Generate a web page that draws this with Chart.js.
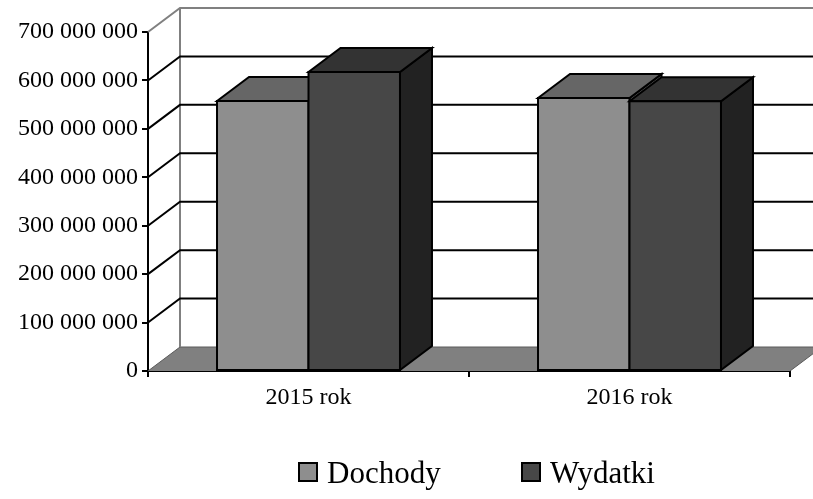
<!DOCTYPE html>
<html>
<head>
<meta charset="utf-8">
<script src="https://cdn.jsdelivr.net/npm/chart.js@4"></script>
<style>
  html, body { margin: 0; padding: 0; background: #fff; }
  canvas { display: block; }
</style>
</head>
<body>
<canvas id="chart" width="813" height="499"></canvas>
<script>
// dane
const categories = ["2015 rok", "2016 rok"];
const seriesNames = ["Dochody", "Wydatki"];
const dochody = [557500000, 563700000];
const wydatki = [617400000, 557000000];
const yMax = 700000000;
const yStep = 100000000;

// przesuniecie glebi (efekt 3D)
const DX = 32;
const DY = -24;

const faces = [
  { front: "#8e8e8e", top: "#666666", side: "#5a5a5a" },
  { front: "#474747", top: "#333333", side: "#222222" },
];

const fmt = (v) => String(v).replace(/\B(?=(\d{3})+(?!\d))/g, " ");

const poly = (ctx, pts, fill) => {
  ctx.beginPath();
  ctx.moveTo(pts[0][0], pts[0][1]);
  for (let i = 1; i < pts.length; i++) ctx.lineTo(pts[i][0], pts[i][1]);
  ctx.closePath();
  ctx.fillStyle = fill;
  ctx.fill();
  ctx.stroke();
};

// sciana, podloga i slupki 3D
const threeD = {
  id: "threeD",
  beforeDatasetsDraw(chart) {
    const { ctx, chartArea: a, scales } = chart;
    const y = scales.y;
    ctx.save();
    // podloga
    ctx.fillStyle = "#808080";
    ctx.strokeStyle = "#5a5a5a";
    ctx.lineWidth = 1;
    ctx.beginPath();
    ctx.moveTo(a.left, a.bottom);
    ctx.lineTo(a.right, a.bottom);
    ctx.lineTo(a.right + DX, a.bottom + DY);
    ctx.lineTo(a.left + DX, a.bottom + DY);
    ctx.closePath();
    ctx.fill();
    ctx.beginPath();
    ctx.moveTo(a.left, a.bottom);
    ctx.lineTo(a.left + DX, a.bottom + DY);
    ctx.lineTo(a.right + DX, a.bottom + DY);
    ctx.lineTo(a.right, a.bottom);
    ctx.stroke();

    // krawedzie sciany
    ctx.strokeStyle = "#808080";
    ctx.lineWidth = 2;
    ctx.beginPath();
    ctx.moveTo(a.left, a.top);
    ctx.lineTo(a.left + DX, a.top + DY);
    ctx.lineTo(a.right + DX, a.top + DY);
    ctx.moveTo(a.left + DX, a.top + DY);
    ctx.lineTo(a.left + DX, a.bottom + DY);
    ctx.stroke();

    // linie siatki na scianie
    ctx.strokeStyle = "#000";
    ctx.lineWidth = 2;
    y.ticks.forEach((t) => {
      if (t.value <= 0 || t.value >= yMax) return;
      const py = y.getPixelForValue(t.value);
      ctx.beginPath();
      ctx.moveTo(a.left, py);
      ctx.lineTo(a.left + DX, py + DY);
      ctx.lineTo(a.right + DX, py + DY);
      ctx.stroke();
    });
    ctx.restore();
  },
  afterDatasetsDraw(chart) {
    const { ctx } = chart;
    const metas = chart.data.datasets.map((d, i) => chart.getDatasetMeta(i));
    ctx.save();
    ctx.strokeStyle = "#000";
    ctx.lineWidth = 2;
    ctx.lineJoin = "miter";
    for (let j = 0; j < categories.length; j++) {
      metas.forEach((meta, i) => {
        const p = meta.data[j].getProps(["x", "y", "base", "width"], true);
        const l = p.x - p.width / 2;
        const r = p.x + p.width / 2;
        const t = p.y;
        const b = p.base;
        poly(ctx, [[r, t], [r + DX, t + DY], [r + DX, b + DY], [r, b]], faces[i].side);
        poly(ctx, [[l, t], [l + DX, t + DY], [r + DX, t + DY], [r, t]], faces[i].top);
        poly(ctx, [[l, t], [r, t], [r, b], [l, b]], faces[i].front);
      });
    }
    ctx.restore();
  },
  afterDraw(chart) {
    // legenda
    const { ctx } = chart;
    const startX = [299, 522];
    ctx.save();
    ctx.font = '31px "Liberation Serif"';
    ctx.textBaseline = "alphabetic";
    seriesNames.forEach((name, i) => {
      const x = startX[i];
      ctx.fillStyle = faces[i].front;
      ctx.strokeStyle = "#000";
      ctx.lineWidth = 2;
      ctx.fillRect(x, 463, 18, 18);
      ctx.strokeRect(x, 463, 18, 18);
      ctx.fillStyle = "#000";
      ctx.fillText(name, x + 28, 483);
    });
    ctx.restore();
  },
};

new Chart(document.getElementById("chart"), {
  type: "bar",
  data: {
    labels: categories,
    datasets: [
      { label: seriesNames[0], data: dochody, backgroundColor: "rgba(0,0,0,0)", borderWidth: 0 },
      { label: seriesNames[1], data: wydatki, backgroundColor: "rgba(0,0,0,0)", borderWidth: 0 },
    ],
  },
  options: {
    responsive: false,
    animation: false,
    devicePixelRatio: 1,
    categoryPercentage: 0.57,
    barPercentage: 1,
    layout: { padding: { top: 32, right: 23, left: 0, bottom: 0 } },
    plugins: {
      legend: { display: false },
      tooltip: { enabled: false },
    },
    scales: {
      x: {
        offset: true,
        grid: { drawOnChartArea: false, offset: true, tickLength: 6, color: "#000", lineWidth: 2 },
        border: { color: "#000", width: 2 },
        ticks: { color: "#000", font: { family: "Liberation Serif", size: 24 }, padding: 6, maxRotation: 0 },
        afterFit: (s) => { s.height = 128; },
      },
      y: {
        min: 0,
        max: yMax,
        grid: { drawOnChartArea: false, tickLength: 6, color: "#000", lineWidth: 2 },
        border: { color: "#000", width: 2 },
        ticks: {
          stepSize: yStep,
          color: "#000",
          font: { family: "Liberation Serif", size: 24 },
          padding: 4,
          callback: fmt,
        },
        afterFit: (s) => { s.width = 148; },
      },
    },
  },
  plugins: [threeD],
});
</script>
</body>
</html>
